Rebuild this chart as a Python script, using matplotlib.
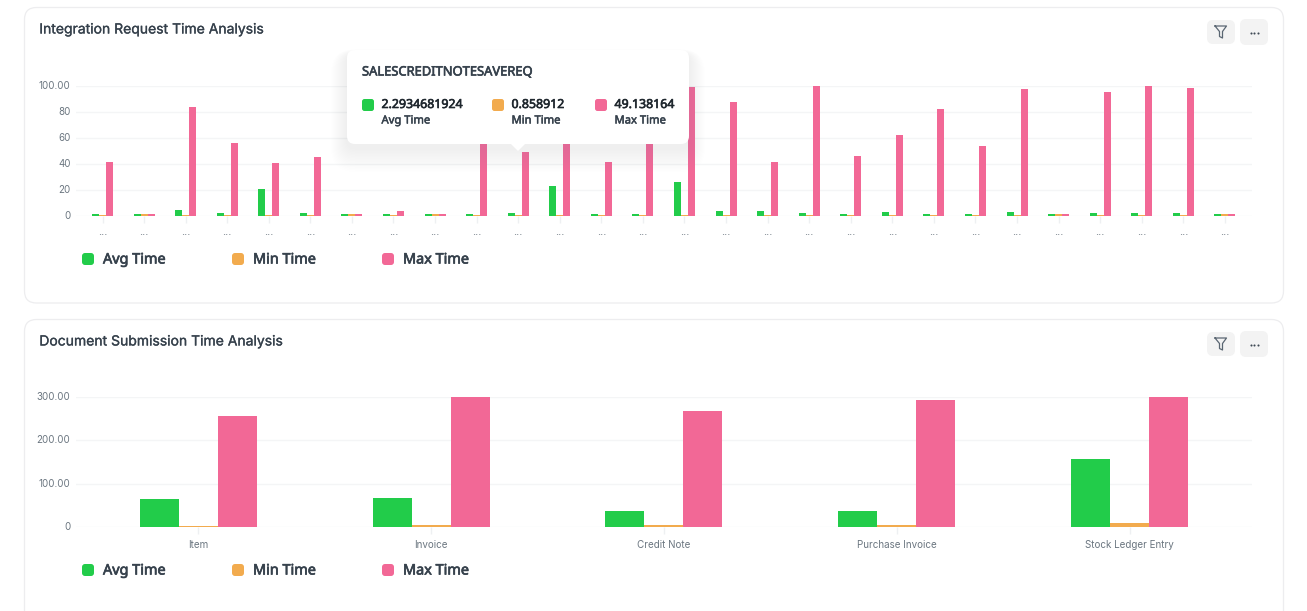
import matplotlib
matplotlib.use("Agg")
import matplotlib.pyplot as plt
import matplotlib.patheffects as pe
from matplotlib.patches import FancyBboxPatch, Polygon
from matplotlib.transforms import ScaledTranslation

W, H = 1307, 611
plt.rcParams['font.family'] = ['Inter', 'DejaVu Sans']

GREEN, ORANGE, PINK = "#22cc4a", "#f2ab4e", "#f26896"
series_names = ["Avg Time", "Min Time", "Max Time"]

req_labels = ["..."] * 28
req_avg = [1.4, 1.5, 4.5, 2.0, 20.5, 2.0, 1.4, 1.4, 1.4, 1.6, 2.29, 23.0, 1.3, 1.8,
           26.0, 3.5, 3.5, 2.3, 1.8, 2.8, 1.8, 1.6, 2.8, 1.3, 2.0, 2.5, 2.5, 1.2]
req_min = [0.8, 1.5, 0.9, 0.8, 0.8, 0.8, 1.4, 0.8, 1.4, 0.8, 0.86, 0.8, 0.8, 0.8,
           0.8, 0.8, 0.9, 0.9, 0.8, 0.9, 0.8, 0.8, 0.9, 1.3, 0.8, 0.8, 0.9, 1.2]
req_max = [41.5, 1.5, 83.5, 56.0, 41.0, 45.3, 1.4, 4.0, 1.4, 62.0, 49.14, 66.0, 41.5, 64.0,
           99.5, 87.5, 41.5, 100.0, 45.8, 62.0, 82.0, 54.0, 98.0, 1.3, 95.5, 100.0, 98.6, 1.2]

doc_labels = ["Item", "Invoice", "Credit Note", "Purchase Invoice", "Stock Ledger Entry"]
doc_avg = [65, 66, 37, 38, 157]
doc_min = [1.5, 3.5, 5, 4, 9]
doc_max = [256, 300, 267, 293, 300]

req_yticks = [0, 20, 40, 60, 80, 100]
req_yticklabels = ["0", "20", "40", "60", "80", "100.00"]
doc_yticks = [0, 100, 200, 300]
doc_yticklabels = ["0", "100.00", "200.00", "300.00"]

tip_title = "SALESCREDITNOTESAVEREQ"
tip_values = ["2.2934681924", "0.858912", "49.138164"]

fig = plt.figure(figsize=(W / 100, H / 100), dpi=100, facecolor="white")


def heavy(t, col, lw=0.45):
    t.set_path_effects([pe.withStroke(linewidth=lw, foreground=col)])
    return t


# pixel-space background
bg = fig.add_axes([0, 0, 1, 1], zorder=0)
bg.set_xlim(0, W); bg.set_ylim(H, 0); bg.axis("off")


def card(y0, y1):
    bg.add_patch(FancyBboxPatch((24.5, y0), 1259, y1 - y0, boxstyle="round,pad=0,rounding_size=12",
                                fc="white", ec="#ededef", lw=0.9, mutation_aspect=1))


def buttons(yc):
    bg.add_patch(FancyBboxPatch((1207, yc - 12), 28, 24, boxstyle="round,pad=0,rounding_size=6",
                                fc="#f3f3f3", ec="none"))
    bg.add_patch(FancyBboxPatch((1240, yc - 13), 28, 26, boxstyle="round,pad=0,rounding_size=6",
                                fc="#f3f3f3", ec="none"))
    bg.plot([1215, 1226.5, 1222.5, 1222.5, 1219.5, 1219.5, 1215],
            [yc - 6, yc - 6, yc - 0.5, yc + 6, yc + 4.5, yc - 0.5, yc - 6],
            color="#5a6672", lw=0.9, solid_joinstyle="round")
    for dx in (-3.5, 0, 3.5):
        bg.plot([1254 + dx], [yc + 0.5], "o", ms=1.5, color="#3f4a55", mew=0)


def legend(y):
    for name, col, x in zip(series_names, [GREEN, ORANGE, PINK], [82, 232, 382]):
        bg.add_patch(FancyBboxPatch((x, y - 6), 12, 12, boxstyle="round,pad=0,rounding_size=3",
                                    fc=col, ec="none"))
        heavy(bg.text(x + 21, y + 1, name, fontsize=10.4, family=["Noto Sans"],
                      color="#36414c", va="center", ha="left"), "#36414c", 0.5)


card(7.5, 303)
card(319.5, 640)
buttons(32)
buttons(344)
heavy(bg.text(39.3, 29.5, "Integration Request Time Analysis", fontsize=10.05,
              color="#36414c", va="center"), "#36414c", 0.2)
heavy(bg.text(39.3, 341.5, "Document Submission Time Analysis", fontsize=10.05,
              color="#36414c", va="center"), "#36414c", 0.2)
legend(259)
legend(570)


def chart(labels, a, b, c, ytop, ybottom, ymax, first, step, barw, yticks, yticklabels, tickfs, xfs, xpad):
    left, right = 76, 1252
    ax = fig.add_axes([left / W, 1 - ybottom / H, (right - left) / W, (ybottom - ytop) / H], zorder=1)
    ax.patch.set_alpha(0)
    ax.set_xlim((left - first) / step, (right - first) / step)
    ax.set_ylim(0, ymax)
    for s in ax.spines.values():
        s.set_visible(False)
    ax.set_axisbelow(True)
    ax.grid(axis="y", color="#f4f5f6", lw=1)
    ax.set_yticks(yticks, yticklabels)
    ax.set_xticks(range(len(labels)), labels)
    ax.tick_params(axis="y", length=0, pad=4, labelsize=tickfs, labelcolor="#6b7680")
    ax.tick_params(axis="x", length=5, width=1, color="#eef0f2", pad=xpad, labelsize=xfs,
                   labelcolor="#6b7680")
    w = barw / step
    xs = list(range(len(labels)))
    for off, vals, col in zip([-w, 0, w], [a, b, c], [GREEN, ORANGE, PINK]):
        ax.bar([x + off for x in xs], vals, width=w, color=col, lw=0)
    up = ScaledTranslation(0, 1 / 100, fig.dpi_scale_trans)
    for lab in ax.get_yticklabels():
        lab.set_transform(lab.get_transform() + up)
    return ax


chart(req_labels, req_avg, req_min, req_max, 86, 216, 100, 102.5, 41.57, 7, req_yticks, req_yticklabels, 7.0, 7.6, 3)
chart(doc_labels, doc_avg, doc_min, doc_max, 397, 527, 300, 198.3, 232.85, 39, doc_yticks, doc_yticklabels, 7.0, 7.1, 4.2)

# tooltip overlay
top = fig.add_axes([0, 0, 1, 1], zorder=5)
top.set_xlim(0, W); top.set_ylim(H, 0); top.axis("off"); top.patch.set_alpha(0)
for i in range(16, 0, -1):
    top.add_patch(FancyBboxPatch((347 - i, 50 - i * 0.3 + 4), 342 + 2 * i, 94 + i * 1.8,
                                 boxstyle="round,pad=0,rounding_size=%d" % (8 + i),
                                 fc="#8a95a0", ec="none", alpha=0.005))
top.add_patch(FancyBboxPatch((347, 50), 342, 94, boxstyle="round,pad=0,rounding_size=8",
                             fc="white", ec="none"))
top.add_patch(Polygon([[511, 144], [525, 144], [518, 151]], fc="white", ec="none"))
heavy(top.text(362, 72, tip_title, fontsize=9.3, family=["Noto Sans"],
               color="#36414c", va="center"), "#36414c")
for name, val, col, x in zip(series_names, tip_values, [GREEN, ORANGE, PINK], [362, 492, 595]):
    top.add_patch(FancyBboxPatch((x, 99), 12, 12, boxstyle="round,pad=0,rounding_size=2.5",
                                 fc=col, ec="none"))
    heavy(top.text(x + 19.5, 104.5, val, fontsize=8.9, family=["Noto Sans"],
                   color="#1f272e", va="center"), "#1f272e")
    heavy(top.text(x + 19.5, 121, name, fontsize=8.1, family=["Noto Sans"],
                   color="#36414c", va="center"), "#36414c", 0.35)

fig.savefig("out.png", dpi=100, facecolor="white")
